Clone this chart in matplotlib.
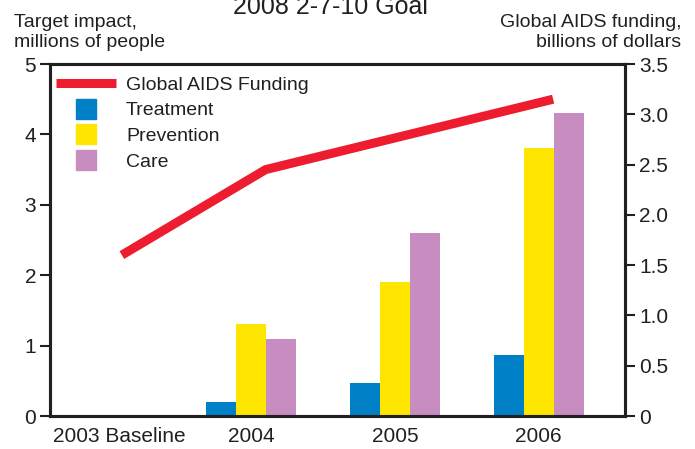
import matplotlib.pyplot as plt
from matplotlib.lines import Line2D

plt.rcParams['font.family'] = ['Liberation Sans', 'DejaVu Sans']

# data
years = ['2003 Baseline', '2004', '2005', '2006']
treatment = [0, 0.2, 0.47, 0.87]
prevention = [0, 1.3, 1.9, 3.8]
care = [0, 1.1, 2.6, 4.3]
funding = [1.6, 2.45, 2.8, 3.15]

left_ticks = [0, 1, 2, 3, 4, 5]
right_ticks = [0, 0.5, 1.0, 1.5, 2.0, 2.5, 3.0, 3.5]
right_labels = ['0', '0.5', '1.0', '1.5', '2.0', '2.5', '3.0', '3.5']

blue = '#0080c6'
yellow = '#ffe600'
pink = '#c88dc0'
red = '#ed1c2e'
dark = '#231f20'

fig = plt.figure(figsize=(6.95, 4.49), dpi=100)
ax = fig.add_axes([50 / 695, 1 - 416 / 449, 575 / 695, 352 / 449])
ax2 = ax.twinx()

x = list(range(len(years)))
w = 0.208
ax.bar([i - w for i in x], treatment, width=w, color=blue, linewidth=0)
ax.bar(x, prevention, width=w, color=yellow, linewidth=0)
ax.bar([i + w for i in x], care, width=w, color=pink, linewidth=0)

ax2.plot([i + 0.1 for i in x], funding, color=red, linewidth=6.5,
         solid_capstyle='butt', solid_joinstyle='miter')

ax.set_xlim(-0.4, 3.6)
ax.set_ylim(0, 5)
ax2.set_ylim(0, 3.5)

ax.set_yticks(left_ticks)
ax.set_yticklabels([str(t) for t in left_ticks])
ax2.set_yticks(right_ticks)
ax2.set_yticklabels(right_labels)

ax.set_xticks([0.08, 1, 2, 3])
ax.set_xticklabels(years)

for a in (ax, ax2):
    for s in a.spines.values():
        s.set_linewidth(2.2)
        s.set_color(dark)
ax.tick_params(axis='y', direction='out', length=7, width=1.5, color=dark,
               labelsize=15, labelcolor=dark, pad=3)
ax2.tick_params(axis='y', direction='out', length=7, width=1.5, color=dark,
                labelsize=15, labelcolor=dark, pad=3)
ax.tick_params(axis='x', length=0, labelsize=15, labelcolor=dark, pad=8)

handles = [
    Line2D([], [], color=red, linewidth=6.5, solid_capstyle='butt'),
    Line2D([], [], color=blue, marker='s', linestyle='none', markersize=15),
    Line2D([], [], color=yellow, marker='s', linestyle='none', markersize=15),
    Line2D([], [], color=pink, marker='s', linestyle='none', markersize=15),
]
labels = ['Global AIDS Funding', 'Treatment', 'Prevention', 'Care']
ax2.legend(handles, labels, loc='upper left', frameon=False, fontsize=14,
           handlelength=3.1, handletextpad=0.5, labelspacing=0.42,
           borderpad=0.45, borderaxespad=0.0, labelcolor=dark,
           bbox_to_anchor=(-0.005, 0.991))

fig.text(330 / 695, 1 - 14 / 449, '2008 2-7-10 Goal', ha='center',
         va='baseline', fontsize=18, color=dark)
fig.text(14 / 695, 1 - 14 / 449, 'Target impact,\nmillions of people',
         ha='left', va='top', fontsize=14, color=dark, linespacing=1.25)
fig.text(681 / 695, 1 - 14 / 449, 'Global AIDS funding,\nbillions of dollars',
         ha='right', va='top', fontsize=14, color=dark, linespacing=1.25,
         multialignment='right')

fig.savefig('out.png', dpi=100)
